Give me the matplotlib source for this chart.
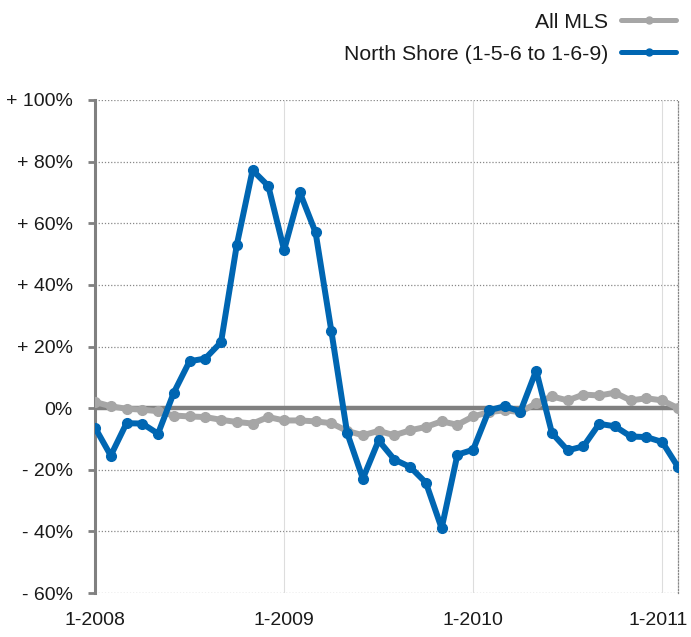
import numpy as np
import matplotlib
matplotlib.use("Agg")
import matplotlib.pyplot as plt
import matplotlib.transforms as mtransforms

plt.rcParams['font.family'] = ['Liberation Sans', 'DejaVu Sans']

# monthly, Jan 2008 .. Feb 2011
months = list(range(38))
all_mls = [2.0, 0.6, -0.2, -0.5, -1.0, -2.4, -2.7, -2.9, -3.8, -4.5,
           -5.0, -2.9, -4.0, -4.0, -4.3, -4.9, -7.4, -8.8, -7.4, -8.8,
           -7.2, -6.1, -4.3, -5.4, -2.7, -1.3, -0.7, -1.3, 1.6, 3.8,
           2.5, 4.4, 4.1, 5.0, 2.5, 3.2, 2.5, 0.0]
north_shore = [-6.3, -15.4, -4.9, -5.0, -8.3, 5.0, 15.2, 16.1, 21.4, 53.0,
               77.2, 72.1, 51.3, 70.0, 57.0, 25.0, -8.0, -22.9, -10.5, -16.7,
               -19.1, -24.2, -39.0, -15.1, -13.5, -0.7, 0.6, -1.1, 12.2, -8.1,
               -13.7, -12.4, -5.1, -5.9, -9.2, -9.4, -11.0, -19.1]
yticks = [100, 80, 60, 40, 20, 0, -20, -40, -60]
ytick_labels = ['+ 100%', '+ 80%', '+ 60%', '+ 40%', '+ 20%', '0%', '- 20%', '- 40%', '- 60%']
xticks = [0, 12, 24, 36]
xtick_labels = ['1-2008', '1-2009', '1-2010', '1-2011']

fig = plt.figure(figsize=(6.91, 6.37), dpi=100)
ax = fig.add_axes([95/691, 1-593/637, (678-95)/691, (593-100)/637])

blue = '#0066b2'
gray = '#a6a6a6'
txt = '#1a1a1a'

# grid
for y in yticks:
    if y != 0:
        ax.axhline(y, color='#888888', lw=0.9, ls=(0, (1, 1.5)), zorder=1)
for x in xticks[1:]:
    ax.axvline(x, color='#dddddd', lw=0.8, zorder=1)
ax.axhline(0, color='#808080', lw=3.2, zorder=2)

ax.plot(months, all_mls, color=gray, lw=4.3, marker='o', ms=7,
        solid_capstyle='round', solid_joinstyle='round', label='All MLS', zorder=3)
ax.plot(months, north_shore, color=blue, lw=4.3, marker='o', ms=7,
        solid_capstyle='round', solid_joinstyle='round',
        label='North Shore (1-5-6 to 1-6-9)', zorder=4)

ax.set_xlim(0, 37)
ax.set_ylim(-60, 100)
ax.set_yticks(yticks)
ax.set_yticklabels(ytick_labels)
ax.set_xticks(xticks)
ax.set_xticklabels(xtick_labels)
ax.tick_params(axis='y', length=5, width=2, color='#808080', labelsize=14,
               labelcolor=txt, pad=11)
ax.tick_params(axis='x', length=0, labelsize=14, labelcolor=txt, pad=14)
# last label sits at the right edge; shift it left a few pixels
lab = ax.get_xticklabels()[-1]
lab.set_transform(lab.get_transform() +
                  mtransforms.ScaledTranslation(-4/100, 0, fig.dpi_scale_trans))

for s in ['top', 'bottom']:
    ax.spines[s].set_visible(False)
ax.spines['left'].set_color('#808080')
ax.spines['left'].set_linewidth(2.2)
ax.spines['right'].set_color('#888888')
ax.spines['right'].set_linewidth(0.9)
ax.spines['right'].set_linestyle((0, (1, 1.5)))

leg = fig.legend(loc='upper right', bbox_to_anchor=(0.997, 1.0), frameon=False,
                 markerfirst=False, fontsize=15.3, handlelength=2.6, labelspacing=0.6,
                 handletextpad=0.6, borderaxespad=0.2)
for t in leg.get_texts():
    t.set_color(txt)
for h in leg.legend_handles:
    h.set_linewidth(3.6)
    h.set_markersize(5)

fig.savefig('out.png', dpi=100)
